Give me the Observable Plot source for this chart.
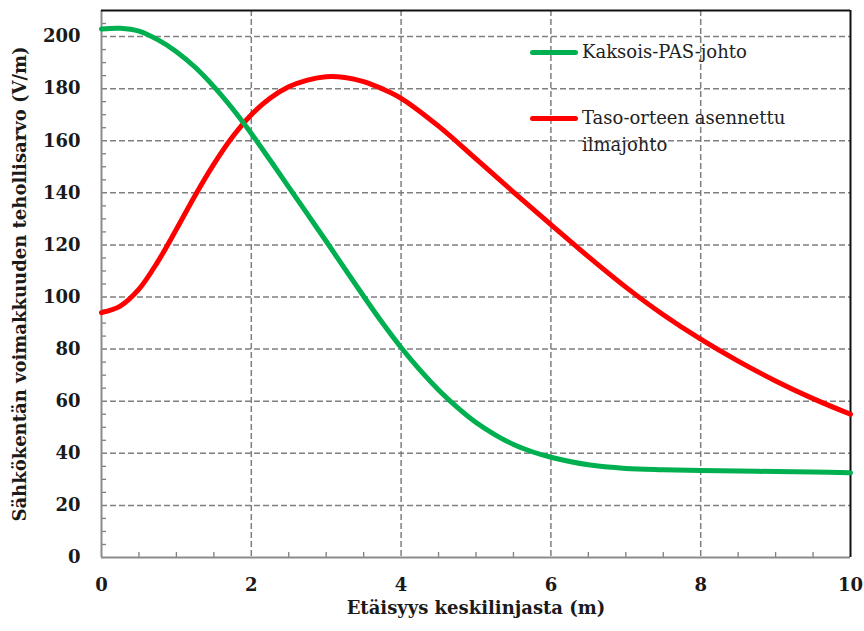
<!DOCTYPE html>
<html>
<head>
<meta charset="utf-8">
<script src="https://cdn.jsdelivr.net/npm/d3@7"></script>
<script src="https://cdn.jsdelivr.net/npm/@observablehq/plot@0.6"></script>
<style>
  html, body { margin: 0; padding: 0; background: #fff; }
  #wrap { position: relative; width: 864px; height: 631px; }
  .leg { position: absolute; font-family: "DejaVu Serif", serif; font-size: 18px; color: #222; line-height: 27px; }
  .sw { position: absolute; height: 5px; border-radius: 3px; width: 48px; }
</style>
</head>
<body>
<div id="wrap"></div>
<script>
// ---- data ----
const xGreen = [0, 0.25, 0.5, 0.75, 1, 1.25, 1.5, 1.75, 2, 2.25, 2.5, 2.75, 3, 3.25, 3.5, 3.75, 4, 4.25, 4.5, 4.75, 5, 5.25, 5.5, 5.75, 6, 6.5, 7, 7.5, 8, 8.5, 9, 9.5, 10];
const yGreen = [202.9, 203.2, 202.1, 198.8, 194.2, 188.2, 180.8, 172.3, 162.8, 152.6, 142.2, 131.8, 121.4, 110.8, 100.3, 90.1, 80.6, 72, 64.3, 57.6, 51.8, 47.2, 43.4, 40.6, 38.5, 35.6, 34.2, 33.7, 33.4, 33.2, 33, 32.8, 32.5];
const xRed = [0, 0.25, 0.5, 0.75, 1, 1.25, 1.5, 1.75, 2, 2.25, 2.5, 2.75, 3, 3.25, 3.5, 3.75, 4, 4.5, 5, 5.5, 6, 6.5, 7, 7.5, 8, 8.5, 9, 9.5, 10];
const yRed = [94, 96.5, 103, 113.5, 126, 139, 151, 161.5, 170, 176.3, 180.7, 183.3, 184.6, 184.3, 182.7, 179.9, 176.3, 165.6, 153, 140.3, 127.8, 115.5, 103.8, 93.2, 83.8, 75.4, 67.8, 61, 55];
const seriesNames = ["Kaksois-PAS-johto", "Taso-orteen asennettu\nilmajohto"];
const seriesColors = ["#00b050", "#ff0000"];
const xTicks = [0, 2, 4, 6, 8, 10];
const yTicks = [0, 20, 40, 60, 80, 100, 120, 140, 160, 180, 200];
const xMinor = [0.5, 1, 1.5, 2.5, 3, 3.5, 4.5, 5, 5.5, 6.5, 7, 7.5, 8.5, 9, 9.5];
const yMinor = d3.range(5, 210, 5).filter(v => v % 20 !== 0);
const xDomain = [0, 10];
const yDomain = [0, 210];
const xTitle = ["Etäisyys keskilinjasta (m)"];
const yTitle = ["Sähkökentän voimakkuuden tehollisarvo (V/m)"];

const green = xGreen.map((x, i) => ({x, y: yGreen[i]}));
const red = xRed.map((x, i) => ({x, y: yRed[i]}));

const font = "DejaVu Serif";
const chart = Plot.plot({
  width: 864,
  height: 631,
  marginLeft: 101,
  marginRight: 14,
  marginTop: 10,
  marginBottom: 74,
  x: {domain: xDomain},
  y: {domain: yDomain},
  style: {fontFamily: font, fontSize: "18px", fontWeight: "bold", color: "#1a1a1a", background: "#fff"},
  marks: [
    Plot.gridX(xTicks.slice(1, -1), {stroke: "#7f7f7f", strokeOpacity: 1, strokeWidth: 1.5, strokeDasharray: "6,3"}),
    Plot.gridY(yTicks.slice(1), {stroke: "#7f7f7f", strokeOpacity: 1, strokeWidth: 1.5, strokeDasharray: "6,3"}),
    Plot.axisY({ticks: yMinor, tickSize: -5, tickFormat: () => "", stroke: "#7f7f7f", strokeWidth: 1.3, label: null}),
    Plot.axisX({ticks: xMinor, tickSize: -5, tickFormat: () => "", stroke: "#7f7f7f", strokeWidth: 1.3, label: null}),
    Plot.axisY({ticks: yTicks, tickSize: 0, tickPadding: 21, label: null, fontSize: 18, fontWeight: "bold"}),
    Plot.axisX({ticks: xTicks, tickSize: 0, tickPadding: 21, label: null, fontSize: 18, fontWeight: "bold"}),
    Plot.ruleX([xDomain[0]], {stroke: "#8c8c8c", strokeWidth: 2}),
    Plot.ruleY([yDomain[0]], {stroke: "#8c8c8c", strokeWidth: 2}),
    Plot.ruleX([xDomain[1]], {stroke: "#111", strokeWidth: 2}),
    Plot.ruleY([yDomain[1]], {stroke: "#111", strokeWidth: 2}),
    Plot.line(red, {x: "x", y: "y", stroke: seriesColors[1], strokeWidth: 5, curve: "catmull-rom"}),
    Plot.line(green, {x: "x", y: "y", stroke: seriesColors[0], strokeWidth: 5, curve: "catmull-rom"}),
    Plot.text(xTitle, {text: d => d, frameAnchor: "bottom", textAnchor: "middle", dy: 56, fontSize: 18, fontWeight: "bold", fill: "#1a1a1a"}),
    Plot.text(yTitle, {text: d => d, frameAnchor: "left", textAnchor: "middle", rotate: -90, dx: -81, fontSize: 18, fontWeight: "bold", fill: "#1a1a1a"})
  ]
});
const wrap = document.getElementById("wrap");
wrap.appendChild(chart);

// legend overlay
const legPos = [{sx: 530, sy: 50, tx: 582, ty: 38}, {sx: 530, sy: 116, tx: 582, ty: 104}];
seriesNames.forEach((name, i) => {
  const sw = document.createElement("div");
  sw.className = "sw";
  sw.style.left = legPos[i].sx + "px";
  sw.style.top = legPos[i].sy + "px";
  sw.style.background = seriesColors[i];
  wrap.appendChild(sw);
  const t = document.createElement("div");
  t.className = "leg";
  t.style.left = legPos[i].tx + "px";
  t.style.top = legPos[i].ty + "px";
  t.innerHTML = name.split("\n").join("<br>");
  wrap.appendChild(t);
});
</script>
</body>
</html>
